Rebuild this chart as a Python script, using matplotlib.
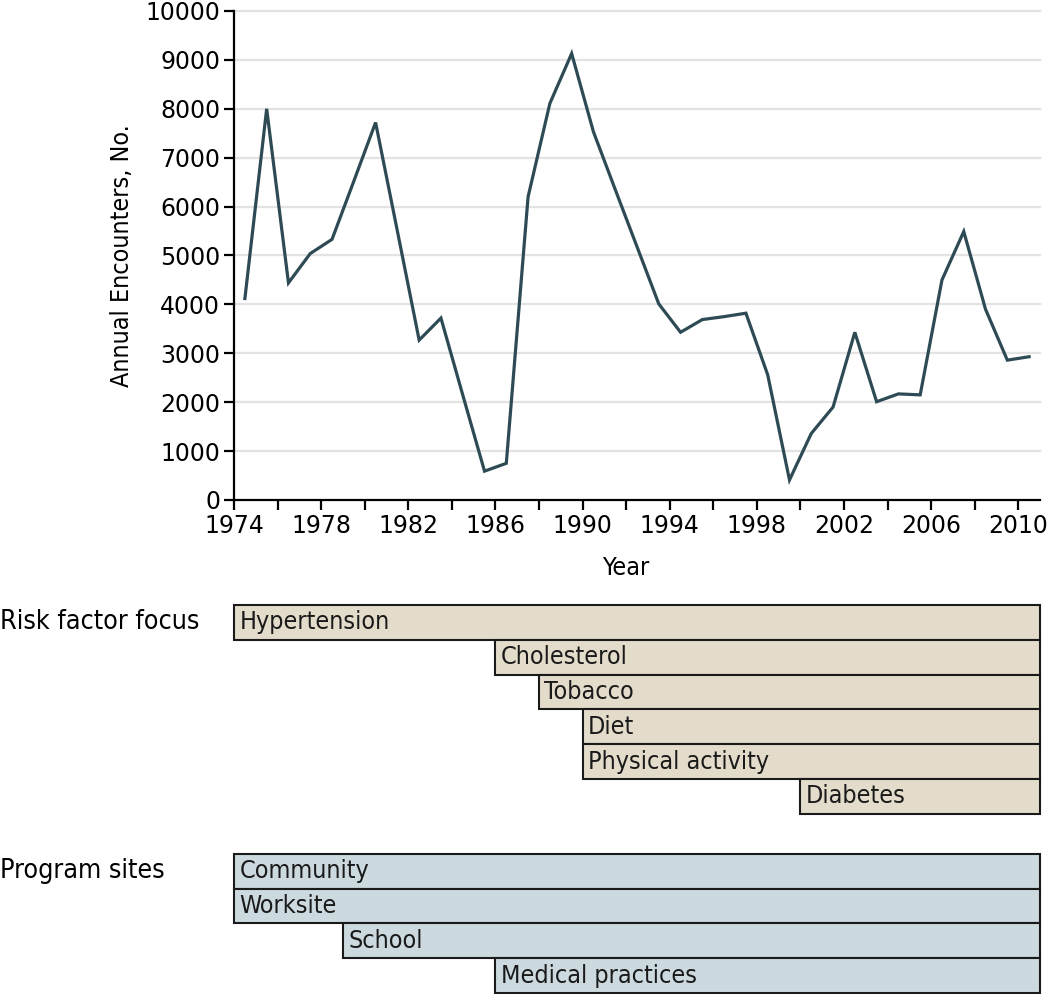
import matplotlib
matplotlib.use("Agg")
import matplotlib.pyplot as plt
import matplotlib.transforms as mtransforms

# annual encounters, plotted at mid-year
years = [1974.5 + i for i in range(37)]
encounters = [4120, 8000, 4440, 5040, 5330, 6520, 7720, 5500, 3270, 3720,
              2150, 590, 750, 6200, 8110, 9130, 7530, 6350, 5180, 4010,
              3430, 3690, 3750, 3820, 2560, 410, 1360, 1900, 3430, 2010,
              2170, 2150, 4500, 5490, 3900, 2860, 2930]

risk_labels = ["Hypertension", "Cholesterol", "Tobacco", "Diet",
               "Physical activity", "Diabetes"]
risk_start = [1974, 1986, 1988, 1990, 1990, 2000]

site_labels = ["Community", "Worksite", "School", "Medical practices"]
site_start = [1974, 1974, 1979, 1986]

x_end = 2011
line_color = "#2e4b55"
risk_color = "#e4dccb"
site_color = "#ccdae0"

fig = plt.figure(figsize=(10.5, 9.94), dpi=100)
W, H = 1050, 994

ax = fig.add_axes([234 / W, 1 - 500 / H, 806 / W, 489 / H])
ax.plot(years, encounters, color=line_color, lw=2.3, solid_joinstyle="miter")
ax.set_xlim(1974, x_end)
ax.set_ylim(0, 10000)
ax.set_yticks(range(0, 10001, 1000))
ax.set_xticks(range(1974, 2011, 2))
ax.set_xticklabels([str(y) if (y - 1974) % 4 == 0 else "" for y in range(1974, 2011, 2)])
for y in range(1000, 10001, 1000):
    ax.axhline(y, color="#e3e3e3", lw=1.6, zorder=0, clip_on=False)
for s in ["top", "right"]:
    ax.spines[s].set_visible(False)
for s in ["left", "bottom"]:
    ax.spines[s].set_linewidth(1.6)
ax.tick_params(axis="both", length=7, width=1.6, labelsize=17, pad=3)
ax.set_ylabel("Annual Encounters, No.", fontsize=18, fontstretch="condensed", labelpad=8)
ax.set_xlabel("Year", fontsize=18, fontstretch="condensed", labelpad=12)
ax.xaxis.set_label_coords(0.486, -0.115)

# timeline bars
row_gap = 40 / 34.6
axb = fig.add_axes([234 / W, 1 - 993 / H, 806 / W, 388 / H])
axb.set_xlim(1974, x_end)
axb.set_ylim(6 + row_gap + 4, 0)
axb.axis("off")

def draw_rows(labels, starts, y0, color):
    for i, (lab, st) in enumerate(zip(labels, starts)):
        axb.barh(y0 + i + 0.5, x_end - st, left=st, height=1.0, color=color,
                 edgecolor="#1a1a1a", lw=1.5, clip_on=False)
        axb.text(st + 0.25, y0 + i + 0.5, lab, va="center", ha="left",
                 fontsize=18, fontstretch="condensed", color="#1a1a1a")

draw_rows(risk_labels, risk_start, 0, risk_color)
draw_rows(site_labels, site_start, 6 + row_gap, site_color)

trans = mtransforms.blended_transform_factory(fig.transFigure, axb.transData)
axb.text(0.0, 0.5, "Risk factor focus", transform=trans, va="center", ha="left",
         fontsize=19.3, fontstretch="condensed")
axb.text(0.0, 6 + row_gap + 0.5, "Program sites", transform=trans, va="center",
         ha="left", fontsize=19.3, fontstretch="condensed")

fig.savefig("out.png", dpi=100)
